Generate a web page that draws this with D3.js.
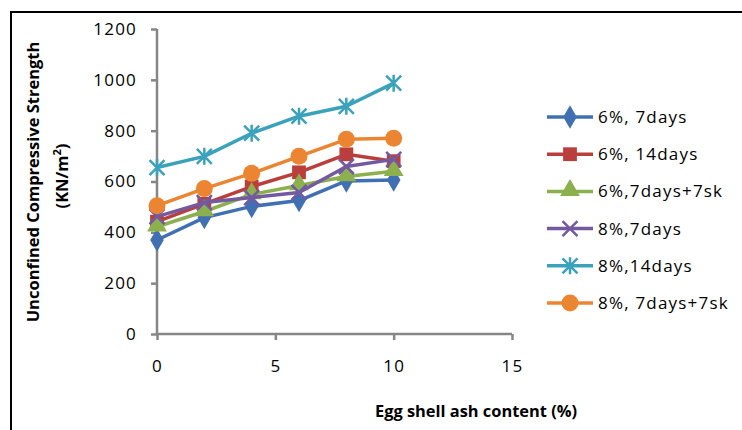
<!DOCTYPE html>
<html>
<head>
<meta charset="utf-8">
<script src="https://cdn.jsdelivr.net/npm/d3@7"></script>
<style>
  body { margin: 0; background: #fff; }
  text { font-family: "Open Sans", "Liberation Sans", sans-serif; }
</style>
</head>
<body>
<div id="chart"></div>
<script>
var ashContent = [0, 2, 4, 6, 8, 10];
var seriesNames = ["6%, 7days", "6%, 14days", "6%,7days+7sk", "8%,7days", "8%,14days", "8%, 7days+7sk"];
var s6d7 = [370, 458, 502, 525, 602, 606];
var s6d14 = [442, 512, 580, 636, 707, 680];
var s6d7sk = [422, 482, 549, 584, 620, 640];
var s8d7 = [462, 517, 537, 557, 659, 687];
var s8d14 = [655, 699, 790, 857, 896, 987];
var s8d7sk = [505, 572, 632, 699, 766, 770];
var seriesValues = [s6d7, s6d14, s6d7sk, s8d7, s8d14, s8d7sk];
var colors = ["#4070B2", "#BA3F3C", "#8DB04F", "#7259A0", "#3BA2BC", "#EC8532"];
var symbols = ["diamond", "square", "triangle", "x", "star", "circle"];
var xTicks = [0, 5, 10, 15];
var yTicks = [0, 200, 400, 600, 800, 1000, 1200];

var W = 742, H = 430;
var svg = d3.select("#chart").append("svg").attr("width", W).attr("height", H);

// outer frame (right and bottom edges fall outside the picture)
svg.append("rect").attr("x", 11).attr("y", 12).attr("width", 760).attr("height", 440)
  .attr("fill", "none").attr("stroke", "#000").attr("stroke-width", 2);

var x = d3.scaleLinear().domain([0, 15]).range([157, 512]);
var y = d3.scaleLinear().domain([0, 1200]).range([334, 29]);

var axisColor = "#868686";

var yAxis = svg.append("g").attr("transform", "translate(157,0)")
  .call(d3.axisLeft(y).tickValues(yTicks).tickFormat(d3.format("d")).tickSize(6).tickPadding(14));
var xAxis = svg.append("g").attr("transform", "translate(0,334)")
  .call(d3.axisBottom(x).tickValues(xTicks).tickFormat(d3.format("d")).tickSize(6).tickPadding(20));
[yAxis, xAxis].forEach(function(a) {
  a.select(".domain").attr("stroke", axisColor).attr("stroke-width", 2.5);
  a.selectAll(".tick line").attr("stroke", axisColor).attr("stroke-width", 2.5);
  a.selectAll(".tick text").attr("fill", "#000").attr("font-size", "17px")
    .attr("letter-spacing", "1.2px")
    .style("font-family", "'Open Sans', sans-serif");
});
xAxis.select(".domain").attr("d", "M157,0H512");
yAxis.select(".domain").attr("d", "M0,334V29");

function drawMarker(g, type, cx, cy, color) {
  if (type === "diamond") {
    g.append("path").attr("d", d3.symbol(d3.symbolDiamond, 160)())
      .attr("transform", "translate(" + cx + "," + cy + ")").attr("fill", color);
  } else if (type === "square") {
    g.append("path").attr("d", d3.symbol(d3.symbolSquare, 190)())
      .attr("transform", "translate(" + cx + "," + cy + ")").attr("fill", color);
  } else if (type === "triangle") {
    g.append("path").attr("d", d3.symbol(d3.symbolTriangle, 170)())
      .attr("transform", "translate(" + cx + "," + (cy - 1) + ")").attr("fill", color);
  } else if (type === "circle") {
    g.append("circle").attr("cx", cx).attr("cy", cy).attr("r", 8.5).attr("fill", color);
  } else if (type === "x") {
    var r = 7.5;
    g.append("path").attr("d", "M" + (cx - r) + "," + (cy - r) + "L" + (cx + r) + "," + (cy + r) +
      "M" + (cx - r) + "," + (cy + r) + "L" + (cx + r) + "," + (cy - r))
      .attr("stroke", color).attr("stroke-width", 2.5);
  } else if (type === "star") {
    var r2 = 7.5;
    g.append("path").attr("d", "M" + (cx - r2) + "," + (cy - r2) + "L" + (cx + r2) + "," + (cy + r2) +
      "M" + (cx - r2) + "," + (cy + r2) + "L" + (cx + r2) + "," + (cy - r2) +
      "M" + cx + "," + (cy - r2 - 1) + "L" + cx + "," + (cy + r2 + 1))
      .attr("stroke", color).attr("stroke-width", 2.5);
  }
}

var line = d3.line().x(function(d, i) { return x(ashContent[i]); }).y(function(d) { return y(d); });

seriesValues.forEach(function(vals, s) {
  var g = svg.append("g");
  g.append("path").attr("d", line(vals)).attr("fill", "none")
    .attr("stroke", colors[s]).attr("stroke-width", 3.5).attr("stroke-linejoin", "round");
  vals.forEach(function(v, i) {
    drawMarker(g, symbols[s], x(ashContent[i]), y(v), colors[s]);
  });
});

// legend
var legend = svg.append("g");
seriesNames.forEach(function(name, i) {
  var ly = 117 + i * 37.2;
  legend.append("line").attr("x1", 547).attr("x2", 593).attr("y1", ly).attr("y2", ly)
    .attr("stroke", colors[i]).attr("stroke-width", 3.5);
  drawMarker(legend, symbols[i], 570, ly, colors[i]);
  legend.append("text").attr("x", 598).attr("y", ly + 6).attr("font-size", "17px")
    .attr("letter-spacing", "1.2px").text(name);
});

// axis titles
svg.append("text").attr("x", 476).attr("y", 417).attr("text-anchor", "middle")
  .attr("font-size", "16.4px").attr("font-weight", "bold").text("Egg shell ash content (%)");

var yt = svg.append("g").attr("transform", "translate(39,182) rotate(-90)");
yt.append("text").attr("x", 0).attr("y", 0).attr("text-anchor", "middle")
  .attr("font-size", "16.5px").attr("font-weight", "bold").text("Unconfined Compressive Strength");
var yt2 = yt.append("text").attr("x", 6).attr("y", 29).attr("text-anchor", "middle")
  .attr("font-size", "16.5px").attr("font-weight", "bold");
yt2.append("tspan").text("(KN/m");
yt2.append("tspan").attr("font-size", "11px").attr("dy", -7).text("2");
yt2.append("tspan").attr("dy", 7).text(")");
</script>
</body>
</html>
